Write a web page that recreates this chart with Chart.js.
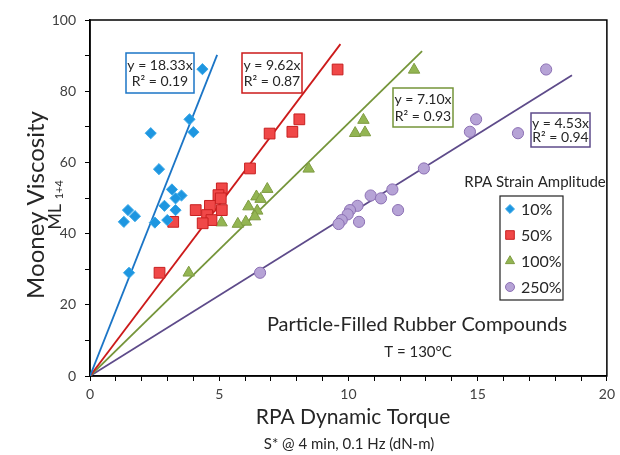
<!DOCTYPE html>
<html>
<head>
<meta charset="utf-8">
<script src="https://cdn.jsdelivr.net/npm/chart.js@4/dist/chart.umd.min.js"></script>
<style>
  html, body { margin: 0; padding: 0; background: #fff; }
  #wrap { width: 620px; height: 455px; position: relative; }
</style>
</head>
<body>
<div id="wrap"><canvas id="mooneyChart"></canvas></div>
<script>
// torque (dN-m) and Mooney viscosity for each RPA strain amplitude
var strainLabels = ['10%', '50%', '100%', '250%'];

var strain10X = [4.35, 2.35, 3.85, 4.0, 2.67, 3.17, 3.54, 3.31, 2.88, 3.31, 1.47, 1.74, 1.31, 2.51, 2.99, 1.51];
var strain10Y = [86.2, 68.2, 72.1, 68.5, 58.1, 52.4, 50.7, 49.9, 47.8, 46.6, 46.6, 44.9, 43.3, 43.1, 43.8, 29.0];

var strain50X = [9.58, 8.10, 7.83, 6.95, 6.19, 5.10, 4.97, 5.06, 4.64, 4.09, 5.10, 4.53, 4.70, 4.36, 3.22, 2.69];
var strain50Y = [86.1, 72.1, 68.6, 68.1, 58.3, 52.7, 50.8, 49.9, 47.8, 46.6, 46.6, 45.2, 43.8, 42.9, 43.3, 29.0];

var strain100X = [12.54, 10.58, 10.26, 10.64, 8.46, 6.86, 6.44, 6.60, 6.13, 6.47, 6.38, 6.03, 5.72, 5.09, 3.82];
var strain100Y = [86.0, 71.9, 68.2, 68.4, 58.2, 52.5, 50.4, 49.7, 47.6, 46.4, 44.8, 43.3, 42.7, 43.1, 29.0];

var strain250X = [17.65, 14.94, 14.70, 16.56, 12.92, 11.70, 10.86, 11.26, 10.35, 10.06, 11.92, 9.97, 9.74, 9.62, 10.41, 6.58];
var strain250Y = [86.1, 72.1, 68.6, 68.2, 58.3, 52.4, 50.7, 49.9, 47.8, 46.6, 46.6, 45.4, 43.8, 42.7, 43.3, 29.0];

// fitted lines through the origin: slope, R², and where each line stops
var trendSlopes = [18.33, 9.62, 7.10, 4.53];
var trendR2 = [0.19, 0.87, 0.93, 0.94];
var trendEndX = [4.92, 9.69, 12.85, 18.65];

var xTickLabels = [0, 5, 10, 15, 20];
var yTickLabels = [0, 20, 40, 60, 80, 100];

var seriesX = [strain10X, strain50X, strain100X, strain250X];
var seriesY = [strain10Y, strain50Y, strain100Y, strain250Y];

var markerStyles = ['rectRot', 'rect', 'triangle', 'circle'];
var markerRadius = [5.6, 7.6, 6.6, 5.6];
var markerFill = ['#1e96e0', '#f04848', '#93b552', '#b6a3d6'];
var markerEdge = ['#3aa8e8', '#c82020', '#7f9c42', '#8c70b4'];
var lineColors = ['#1b75c6', '#cc1a1a', '#75953a', '#5e4b8a'];

var FONT = 'Lato, "Open Sans", sans-serif';
var TEXT = '#262626';

function toPoints(xs, ys) {
    var pts = [];
    for (var i = 0; i < xs.length; i++) {
        pts.push({ x: xs[i], y: ys[i] });
    }
    return pts;
}

var datasets = [];
for (var i = 0; i < seriesX.length; i++) {
    datasets.push({
        label: 'fit ' + strainLabels[i],
        data: [{ x: 0, y: 0 }, { x: trendEndX[i], y: trendSlopes[i] * trendEndX[i] }],
        showLine: true,
        borderColor: lineColors[i],
        borderWidth: 1.8,
        pointRadius: 0,
        order: 2
    });
}
for (var i = 0; i < seriesX.length; i++) {
    datasets.push({
        label: strainLabels[i],
        data: toPoints(seriesX[i], seriesY[i]),
        pointStyle: markerStyles[i],
        pointRadius: markerRadius[i],
        backgroundColor: markerFill[i],
        borderColor: markerEdge[i],
        borderWidth: 1,
        order: 1
    });
}

// frame, fit equation boxes, legend and all the free text
var decorations = {
    id: 'decorations',
    beforeDatasetsDraw: function (chart) {
        var ctx = chart.ctx;
        var a = chart.chartArea;
        ctx.save();
        ctx.strokeStyle = '#000';
        ctx.lineWidth = 1.5;
        ctx.strokeRect(a.left, a.top, a.right - a.left, a.bottom - a.top);
        ctx.restore();
    },
    afterDraw: function (chart) {
        var ctx = chart.ctx;
        ctx.save();

        // equation boxes
        var boxes = [
            { x: 126, y: 53, w: 68, h: 40 },
            { x: 242, y: 53, w: 60, h: 40 },
            { x: 393, y: 88, w: 60, h: 39 },
            { x: 531, y: 113, w: 59, h: 34 }
        ];
        ctx.font = '14px ' + FONT;
        ctx.textAlign = 'center';
        ctx.textBaseline = 'middle';
        for (var i = 0; i < boxes.length; i++) {
            var b = boxes[i];
            ctx.fillStyle = '#fff';
            ctx.fillRect(b.x, b.y, b.w, b.h);
            ctx.strokeStyle = lineColors[i];
            ctx.lineWidth = 1.5;
            ctx.strokeRect(b.x, b.y, b.w, b.h);
            ctx.fillStyle = TEXT;
            var cx = b.x + b.w / 2;
            ctx.fillText('y = ' + trendSlopes[i].toFixed(2) + 'x', cx, b.y + b.h * 0.3);
            ctx.fillText('R\u00b2 = ' + trendR2[i].toFixed(2), cx, b.y + b.h * 0.72);
        }

        // legend
        ctx.font = '15px ' + FONT;
        ctx.fillText('RPA Strain Amplitude', 535, 182);
        ctx.fillStyle = '#fff';
        ctx.fillRect(500, 196, 63, 104);
        ctx.strokeStyle = '#222';
        ctx.lineWidth = 1.2;
        ctx.strokeRect(500, 196, 63, 104);
        ctx.font = '16px ' + FONT;
        ctx.textAlign = 'left';
        for (var i = 0; i < strainLabels.length; i++) {
            var ly = 209 + i * 26;
            ctx.fillStyle = markerFill[i];
            ctx.strokeStyle = markerEdge[i];
            ctx.lineWidth = 1;
            Chart.helpers.drawPoint(ctx, {
                pointStyle: markerStyles[i],
                radius: markerRadius[i] * 0.8,
                rotation: 0,
                borderWidth: 1
            }, 510, ly);
            ctx.fillStyle = TEXT;
            ctx.fillText(strainLabels[i], 521, ly + 1);
        }

        // caption inside the plot
        ctx.textAlign = 'center';
        ctx.fillStyle = TEXT;
        ctx.font = '20px ' + FONT;
        ctx.fillText('Particle-Filled Rubber Compounds', 417, 325);
        ctx.font = '15px ' + FONT;
        ctx.fillText('T = 130\u00b0C', 418, 352);

        // x axis titles
        ctx.font = '21px ' + FONT;
        ctx.fillText('RPA Dynamic Torque', 353, 417);
        ctx.font = '15px ' + FONT;
        ctx.fillText('S* @ 4 min, 0.1 Hz (dN-m)', 349, 444);

        // y axis titles
        ctx.translate(36, 205);
        ctx.rotate(-Math.PI / 2);
        ctx.font = '24px ' + FONT;
        ctx.fillText('Mooney Viscosity', 0, 0);
        ctx.restore();

        ctx.save();
        ctx.translate(55, 205);
        ctx.rotate(-Math.PI / 2);
        ctx.fillStyle = TEXT;
        ctx.textBaseline = 'middle';
        ctx.textAlign = 'left';
        ctx.font = '18px ' + FONT;
        var mlW = ctx.measureText('ML ').width;
        ctx.font = '11px ' + FONT;
        var subW = ctx.measureText('1+4').width;
        var start = -(mlW + subW) / 2;
        ctx.font = '18px ' + FONT;
        ctx.fillText('ML ', start, 0);
        ctx.font = '11px ' + FONT;
        ctx.fillText('1+4', start + mlW, 4);
        ctx.restore();
    }
};

new Chart(document.getElementById('mooneyChart'), {
    type: 'scatter',
    data: { datasets: datasets },
    options: {
        responsive: true,
        maintainAspectRatio: false,
        animation: false,
        layout: { padding: { top: 20, right: 9, left: 0, bottom: 0 } },
        plugins: {
            legend: { display: false },
            tooltip: { enabled: false }
        },
        scales: {
            x: {
                type: 'linear',
                min: 0,
                max: 20,
                afterFit: function (scale) { scale.height = 79; },
                border: { display: true, color: '#000', width: 1.5 },
                grid: { drawOnChartArea: false, tickLength: 5, tickColor: '#000', tickWidth: 1 },
                ticks: {
                    stepSize: 1,
                    padding: 5,
                    color: '#404040',
                    font: { family: FONT, size: 14 },
                    maxRotation: 0,
                    autoSkip: false,
                    callback: function (v) { return xTickLabels.indexOf(v) >= 0 ? String(v) : ''; }
                }
            },
            y: {
                type: 'linear',
                min: 0,
                max: 100,
                afterFit: function (scale) { scale.width = 90; },
                border: { display: true, color: '#000', width: 1.5 },
                grid: { drawOnChartArea: false, tickLength: 5, tickColor: '#000', tickWidth: 1 },
                ticks: {
                    stepSize: 10,
                    padding: 9,
                    color: '#404040',
                    font: { family: FONT, size: 14 },
                    autoSkip: false,
                    callback: function (v) { return yTickLabels.indexOf(v) >= 0 ? String(v) : ''; }
                }
            }
        }
    },
    plugins: [decorations]
});
</script>
</body>
</html>
